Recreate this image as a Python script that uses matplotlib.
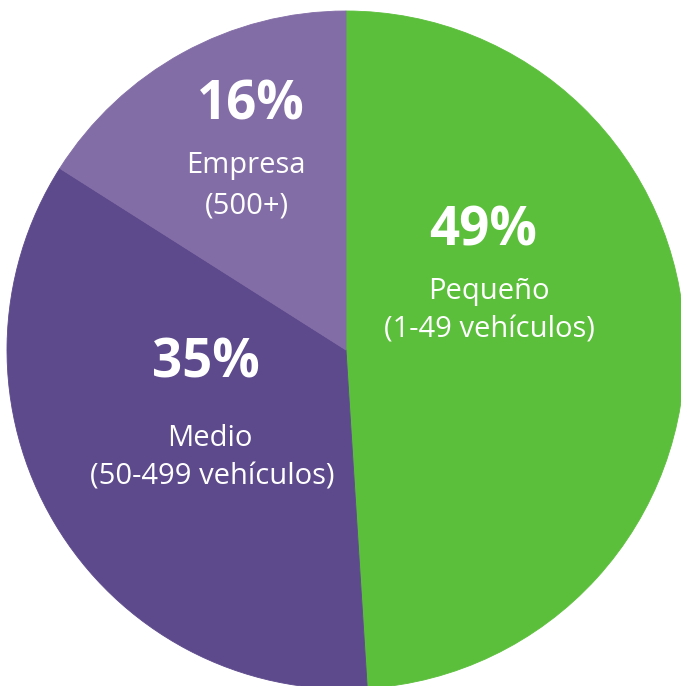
import matplotlib.pyplot as plt

# segment data
shares = [49, 35, 16]
names = ['Pequeño', 'Medio', 'Empresa']
ranges = ['(1-49 vehículos)', '(50-499 vehículos)', '(500+)']
colors = ['#5bbf3b', '#5d4a8d', '#836da6']

W, H = 681, 686
fig = plt.figure(figsize=(W / 100, H / 100), dpi=100, facecolor='white')
ax = fig.add_axes([0, 0, 1, 1])

wedges, _ = ax.pie(shares, colors=colors, startangle=90, counterclock=False,
                   center=(346, H - 350), radius=339)
for w, c in zip(wedges, colors):
    w.set_edgecolor(c)
    w.set_linewidth(0.6)

ax.set_xlim(0, W)
ax.set_ylim(0, H)
ax.set_aspect('equal')
ax.axis('off')

# label positions (pixel coords from top-left): percent, name, range
pos = [
    ((483, 232), (489, 291), (489, 330)),
    ((206, 364), (210, 438), (212, 477)),
    ((251, 105), (246, 165), (247, 206)),
]

for s, n, r, (p1, p2, p3) in zip(shares, names, ranges, pos):
    ax.text(p1[0], H - p1[1], '%d%%' % s, ha='center', va='center',
            color='white', fontsize=38, fontweight='bold', family='Open Sans')
    ax.text(p2[0], H - p2[1], n, ha='center', va='center',
            color='white', fontsize=21, family='Open Sans')
    ax.text(p3[0], H - p3[1], r, ha='center', va='center',
            color='white', fontsize=21, family='Open Sans')

fig.savefig('out.png', dpi=100, facecolor='white')
